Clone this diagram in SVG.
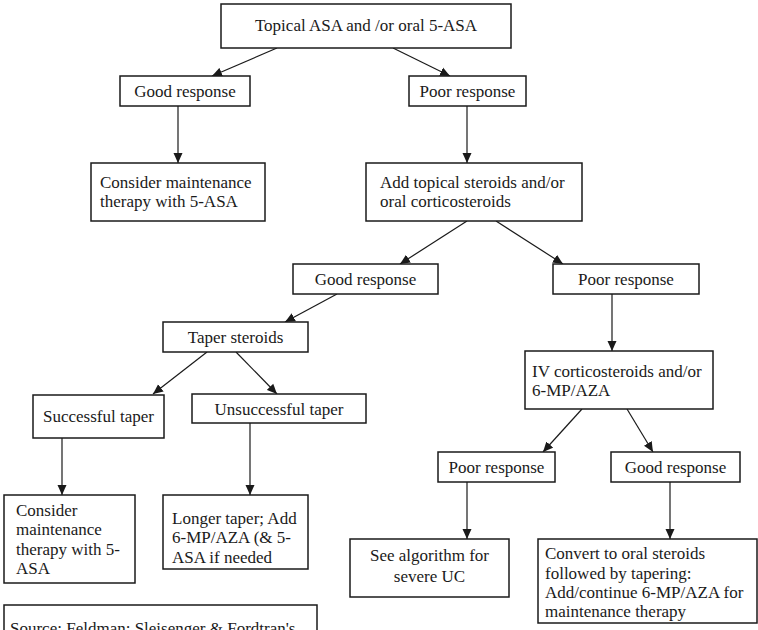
<svg xmlns="http://www.w3.org/2000/svg" width="758" height="630" viewBox="0 0 758 630">
<style>
.box{fill:#fff;stroke:#1a1a1a;stroke-width:1.5}
.t{font-family:"Liberation Serif","Times New Roman",serif;font-size:17px;fill:#1a1a1a}
.c{text-anchor:middle}
.ln{stroke:#1a1a1a;stroke-width:1.2;fill:none;marker-end:url(#ah)}
</style>
<defs>
<marker id="ah" markerUnits="userSpaceOnUse" markerWidth="10" markerHeight="10" refX="10" refY="5" orient="auto">
<path d="M0,0.5 L10,5 L0,9.5 z" fill="#1a1a1a"/>
</marker>
</defs>
<rect width="758" height="630" fill="#fff"/>
<g id="connectors">
<line class="ln" x1="277" y1="48" x2="212" y2="76"/>
<line class="ln" x1="393" y1="48" x2="450" y2="76"/>
<line class="ln" x1="178" y1="106" x2="178" y2="163"/>
<line class="ln" x1="467" y1="106" x2="467" y2="163"/>
<line class="ln" x1="467" y1="221" x2="400" y2="264"/>
<line class="ln" x1="496" y1="221" x2="563" y2="264"/>
<line class="ln" x1="337" y1="294" x2="285" y2="322"/>
<line class="ln" x1="612" y1="294" x2="612" y2="351"/>
<line class="ln" x1="207" y1="352" x2="153" y2="394"/>
<line class="ln" x1="236" y1="352" x2="277" y2="394"/>
<line class="ln" x1="62" y1="438" x2="62" y2="495"/>
<line class="ln" x1="250" y1="423" x2="250" y2="495"/>
<line class="ln" x1="582" y1="409" x2="543" y2="452"/>
<line class="ln" x1="627" y1="409" x2="653" y2="452"/>
<line class="ln" x1="467" y1="482" x2="467" y2="539"/>
<line class="ln" x1="670" y1="482" x2="670" y2="539"/>
</g>
<g id="n-start">
<rect class="box" x="221" y="4" width="290" height="44"/>
<text class="t c" x="366" y="31">Topical ASA and /or oral 5-ASA</text>
</g>
<g id="n-good1">
<rect class="box" x="120" y="76" width="130" height="30"/>
<text class="t c" x="185" y="96.5">Good response</text>
</g>
<g id="n-poor1">
<rect class="box" x="409" y="76" width="117" height="30"/>
<text class="t c" x="467.5" y="96.5">Poor response</text>
</g>
<g id="n-consider1">
<rect class="box" x="91" y="163" width="174" height="58"/>
<text class="t" x="100" y="188">Consider maintenance</text>
<text class="t" x="100" y="207">therapy with 5-ASA</text>
</g>
<g id="n-addtopical">
<rect class="box" x="366" y="163" width="216" height="58"/>
<text class="t" x="380" y="188">Add topical steroids and/or</text>
<text class="t" x="380" y="207">oral corticosteroids</text>
</g>
<g id="n-good2">
<rect class="box" x="293" y="264" width="145" height="30"/>
<text class="t c" x="365.5" y="285">Good response</text>
</g>
<g id="n-poor2">
<rect class="box" x="553" y="264" width="146" height="30"/>
<text class="t c" x="626" y="285">Poor response</text>
</g>
<g id="n-taper">
<rect class="box" x="163" y="322" width="145" height="30"/>
<text class="t c" x="235.5" y="343">Taper steroids</text>
</g>
<g id="n-successful">
<rect class="box" x="33" y="395" width="131" height="43"/>
<text class="t c" x="98.5" y="422">Successful taper</text>
</g>
<g id="n-unsuccessful">
<rect class="box" x="192" y="394" width="174" height="29"/>
<text class="t c" x="279" y="415">Unsuccessful taper</text>
</g>
<g id="n-iv">
<rect class="box" x="525" y="351" width="188" height="58"/>
<text class="t" x="532" y="377">IV corticosteroids and/or</text>
<text class="t" x="532" y="396">6-MP/AZA</text>
</g>
<g id="n-poor3">
<rect class="box" x="438" y="452" width="117" height="30"/>
<text class="t c" x="496.5" y="473">Poor response</text>
</g>
<g id="n-good3">
<rect class="box" x="611" y="452" width="129" height="30"/>
<text class="t c" x="675.5" y="473">Good response</text>
</g>
<g id="n-consider2">
<rect class="box" x="4" y="495" width="131" height="88"/>
<text class="t" x="16" y="516">Consider</text>
<text class="t" x="16" y="535">maintenance</text>
<text class="t" x="16" y="554.5">therapy with 5-</text>
<text class="t" x="16" y="574">ASA</text>
</g>
<g id="n-longer">
<rect class="box" x="163" y="495" width="145" height="74"/>
<text class="t" x="172" y="523.5">Longer taper; Add</text>
<text class="t" x="172" y="543">6-MP/AZA (&amp; 5-</text>
<text class="t" x="172" y="562.5">ASA if needed</text>
</g>
<g id="n-severe">
<rect class="box" x="350" y="539" width="159" height="58"/>
<text class="t c" x="429.5" y="561">See algorithm for</text>
<text class="t c" x="429.5" y="582">severe UC</text>
</g>
<g id="n-convert">
<rect class="box" x="538" y="539" width="219" height="84"/>
<text class="t" x="545" y="559">Convert to oral steroids</text>
<text class="t" x="545" y="578.5">followed by tapering:</text>
<text class="t" x="545" y="598">Add/continue 6-MP/AZA for</text>
<text class="t" x="545" y="617">maintenance therapy</text>
</g>
<g id="n-source">
<rect class="box" x="4" y="605" width="313" height="40"/>
<text class="t" x="10" y="634">Source: Feldman: Sleisenger &amp; Fordtran's</text>
</g>
</svg>
